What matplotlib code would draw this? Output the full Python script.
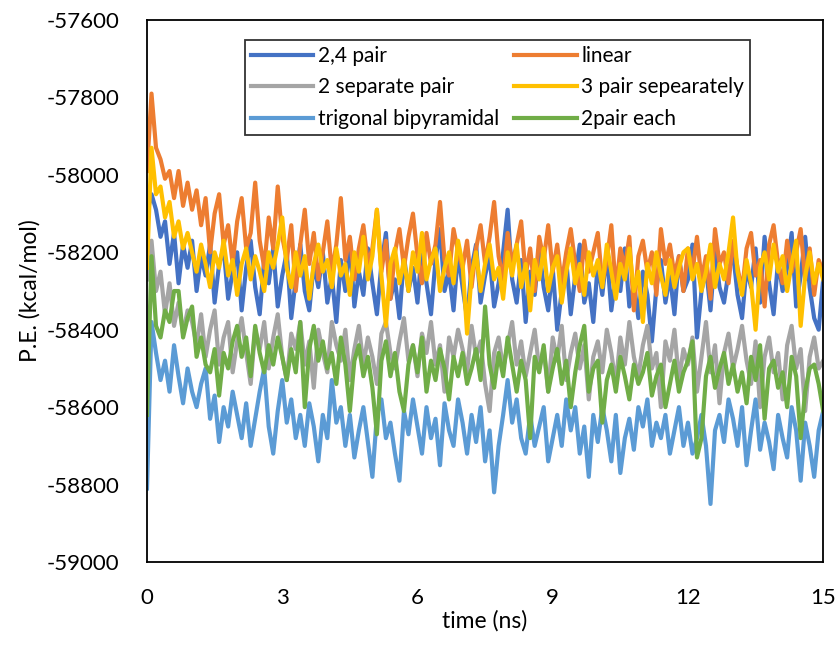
import numpy as np
import matplotlib
matplotlib.use("Agg")
import matplotlib.pyplot as plt

plt.rcParams['font.family'] = ['Lato', 'DejaVu Sans']
plt.rcParams['axes.unicode_minus'] = False

# time axis (ns), one frame every 0.1 ns
time_ns = np.arange(151) / 10.0

pair_24 = [
    -58100, -58050, -58090, -58160, -58120, -58230, -58150, -58280, -58180, -58240,
    -58170, -58300, -58210, -58260, -58180, -58330, -58230, -58190, -58320, -58250,
    -58200, -58350, -58240, -58170, -58290, -58360, -58220, -58280, -58190, -58340,
    -58260, -58200, -58370, -58270, -58180, -58300, -58350, -58230, -58290, -58200,
    -58330, -58260, -58380, -58220, -58300, -58170, -58340, -58250, -58310, -58190,
    -58280, -58360, -58230, -58150, -58320, -58270, -58370, -58210, -58300, -58240,
    -58330, -58190, -58280, -58360, -58220, -58140, -58300, -58250, -58350, -58200,
    -58290, -58370, -58240, -58180, -58330, -58260, -58210, -58340, -58280, -58200,
    -58090, -58270, -58330, -58220, -58380, -58250, -58310, -58190, -58290, -58350,
    -58240, -58400, -58300, -58220, -58360, -58260, -58180, -58330, -58280, -58380,
    -58230, -58310, -58200, -58350, -58260, -58300, -58190, -58340, -58280, -58370,
    -58250, -58310, -58430, -58290, -58220, -58330, -58260, -58360, -58210, -58300,
    -58270, -58180, -58420, -58300, -58240, -58350, -58200, -58290, -58330, -58250,
    -58200, -58310, -58370, -58240, -58290, -58190, -58330, -58160, -58280, -58360,
    -58220, -58300, -58240, -58150, -58340, -58260, -58160, -58290, -58370, -58400,
    -58270]

linear = [
    -57990, -57790, -57930, -57960, -58010, -57990, -58060, -57990, -58080, -58020,
    -58090, -58040, -58130, -58060, -58200, -58100, -58050, -58180, -58130, -58230,
    -58120, -58060, -58190, -58150, -58020, -58170, -58240, -58110, -58190, -58030,
    -58160, -58220, -58130, -58300, -58180, -58090, -58230, -58150, -58270, -58200,
    -58120, -58250, -58180, -58060, -58220, -58160, -58270, -58190, -58130, -58230,
    -58190, -58090, -58250, -58170, -58320, -58200, -58140, -58240, -58160, -58100,
    -58210, -58280, -58150, -58230, -58180, -58070, -58220, -58260, -58140, -58200,
    -58240, -58170, -58290, -58190, -58130, -58230, -58160, -58070, -58210, -58270,
    -58150, -58230, -58180, -58120, -58260, -58190, -58300, -58160, -58220, -58130,
    -58250, -58180, -58280, -58200, -58140, -58230, -58300, -58170, -58250, -58200,
    -58150, -58280, -58220, -58130, -58300, -58190, -58240, -58160, -58350, -58210,
    -58170, -58250, -58200, -58310, -58140, -58230, -58180, -58260, -58210, -58300,
    -58190, -58250, -58160, -58270, -58210, -58320, -58140, -58230, -58200, -58280,
    -58170, -58240, -58300, -58190, -58150, -58260, -58220, -58340, -58180, -58130,
    -58230, -58280, -58170, -58250, -58200, -58140, -58270, -58190, -58310, -58220,
    -58250]

separate_2 = [
    -58270, -58170, -58300, -58250, -58360, -58280, -58390, -58330, -58410, -58350,
    -58380, -58440, -58360, -58470, -58400, -58350, -58490, -58420, -58380, -58510,
    -58430, -58370, -58460, -58540, -58400, -58450, -58380, -58500, -58420, -58360,
    -58470, -58530, -58410, -58450, -58380, -58490, -58430, -58550, -58400, -58460,
    -58510, -58380, -58440, -58480, -58400, -58530, -58450, -58390, -58490, -58420,
    -58470, -58540, -58410, -58380, -58460, -58500, -58430, -58370, -58480, -58440,
    -58520, -58410, -58460, -58380, -58490, -58440, -58560, -58420, -58470, -58400,
    -58450, -58510, -58390, -58470, -58430, -58540, -58610, -58460, -58420, -58500,
    -58440, -58380, -58490, -58430, -58520, -58460, -58400, -58500, -58450, -58560,
    -58420, -58480, -58390, -58530, -58460, -58410, -58500, -58440, -58580, -58470,
    -58430, -58510, -58400, -58460, -58540, -58420, -58490, -58380, -58470, -58520,
    -58440, -58390, -58500, -58460, -58600, -58430, -58480, -58400, -58530, -58450,
    -58490, -58420, -58560, -58470, -58380, -58510, -58440, -58590, -58460, -58410,
    -58500, -58450, -58390, -58480, -58540, -58430, -58600, -58470, -58420, -58510,
    -58460, -58580, -58440, -58390, -58500, -58450, -58610, -58470, -58420, -58500,
    -58480]

pair_3_sep = [
    -58240, -57930, -58050, -58030, -58110, -58070, -58160, -58120, -58190, -58150,
    -58200, -58250, -58180, -58230, -58290, -58200, -58240, -58170, -58260, -58220,
    -58310, -58230, -58190, -58270, -58210, -58250, -58300, -58200, -58240, -58180,
    -58110, -58240, -58290, -58200, -58260, -58210, -58320, -58230, -58180, -58250,
    -58220, -58290, -58190, -58260, -58230, -58310, -58200, -58250, -58160, -58270,
    -58210, -58090, -58260, -58390, -58230, -58190, -58280, -58220, -58300, -58200,
    -58250, -58150, -58270, -58220, -58190, -58300, -58240, -58200, -58280, -58170,
    -58230, -58410, -58260, -58200, -58300, -58230, -58180, -58270, -58240, -58320,
    -58200, -58260, -58180, -58290, -58230, -58350, -58220, -58270, -58190, -58300,
    -58240, -58210, -58330, -58250, -58190, -58280, -58230, -58310, -58200, -58260,
    -58220, -58290, -58180, -58250, -58320, -58230, -58270, -58190, -58300, -58250,
    -58380, -58230, -58280, -58200, -58260, -58310, -58220, -58290, -58240, -58200,
    -58190, -58270, -58230, -58300, -58250, -58180, -58290, -58230, -58270, -58200,
    -58110, -58250, -58310, -58220, -58280, -58400, -58240, -58200, -58270, -58180,
    -58250, -58210, -58300, -58230, -58170, -58390, -58260, -58200, -58280, -58230,
    -58270]

trigonal = [
    -58810, -58380, -58460, -58530, -58480, -58560, -58440, -58520, -58590, -58500,
    -58560, -58600, -58540, -58500, -58630, -58570, -58690, -58600, -58650, -58560,
    -58620, -58680, -58590, -58700, -58630, -58560, -58500, -58650, -58720, -58610,
    -58530, -58640, -58580, -58680, -58620, -58700, -58590, -58650, -58740, -58620,
    -58680, -58530, -58640, -58600, -58700, -58620, -58730, -58660, -58600, -58690,
    -58780, -58620, -58580, -58680, -58640, -58720, -58790, -58610, -58670, -58580,
    -58650, -58720, -58600, -58680, -58630, -58750, -58590, -58660, -58700, -58580,
    -58640, -58720, -58620, -58690, -58600, -58740, -58660, -58820, -58700, -58620,
    -58530, -58640, -58580, -58680, -58720, -58620, -58700, -58650, -58600, -58740,
    -58680, -58620, -58700, -58580, -58660, -58600, -58720, -58650, -58780, -58620,
    -58690, -58600, -58660, -58740, -58620, -58770, -58680, -58630, -58710, -58600,
    -58650, -58580, -58700, -58640, -58680, -58620, -58720, -58660, -58600, -58700,
    -58640, -58720, -58680, -58620, -58700, -58850, -58660, -58620, -58690, -58580,
    -58630, -58700, -58600, -58750, -58660, -58580, -58710, -58640, -58690, -58760,
    -58620, -58680, -58730, -58600, -58660, -58790, -58640, -58700, -58780, -58660,
    -58610]

pair_2_each = [
    -58620, -58210, -58390, -58420, -58350, -58380, -58300, -58300, -58420, -58370,
    -58340, -58470, -58420, -58490, -58510, -58450, -58570, -58460, -58500, -58430,
    -58390, -58470, -58420, -58520, -58390, -58460, -58510, -58440, -58490, -58420,
    -58470, -58530, -58450, -58510, -58380, -58600, -58450, -58390, -58480, -58430,
    -58500, -58460, -58540, -58420, -58490, -58610, -58480, -58440, -58520, -58470,
    -58550, -58670, -58480, -58430, -58520, -58460, -58560, -58610, -58490, -58440,
    -58510, -58420, -58560, -58480, -58530, -58450, -58500, -58580, -58470, -58520,
    -58460, -58540, -58500, -58450, -58530, -58340, -58490, -58550, -58460, -58520,
    -58420, -58490, -58560, -58480, -58530, -58680, -58470, -58510, -58440, -58560,
    -58500, -58450, -58540, -58480, -58600, -58510, -58440, -58390, -58560, -58500,
    -58480, -58640, -58530, -58490, -58560, -58470, -58520, -58580, -58490, -58540,
    -58510, -58460, -58570, -58520, -58490, -58600, -58540, -58480, -58560, -58510,
    -58480, -58430, -58730, -58680, -58520, -58470, -58550, -58500, -58460, -58540,
    -58490, -58560, -58510, -58590, -58470, -58530, -58440, -58630, -58500, -58480,
    -58550, -58510, -58600, -58470, -58520, -58680, -58560, -58500, -58490, -58540,
    -58610]

series = [
    ("2,4 pair", pair_24, "#4472C4"),
    ("linear", linear, "#ED7D31"),
    ("2 separate pair", separate_2, "#A5A5A5"),
    ("3 pair sepearately", pair_3_sep, "#FFC000"),
    ("trigonal bipyramidal", trigonal, "#5B9BD5"),
    ("2pair each", pair_2_each, "#70AD47"),
]

fig = plt.figure(figsize=(8.4, 6.46), dpi=100)
ax = fig.add_axes([0.175, 0.13, 0.805, 0.839])

lines = []
for name, vals, col in series:
    ln, = ax.plot(time_ns, vals, color=col, lw=3.0, label=name,
                  solid_joinstyle="round")
    lines.append(ln)

ax.set_xlim(0, 15)
ax.set_ylim(-59000, -57600)
ax.set_xticks([0, 3, 6, 9, 12, 15])
ax.set_yticks(np.arange(-59000, -57599, 200))
ax.tick_params(length=0, labelsize=16, colors="black")
ax.tick_params(axis="x", pad=19)
ax.tick_params(axis="y", pad=20)
for sp in ax.spines.values():
    sp.set_linewidth(1.3)
    sp.set_color("black")

ax.set_xlabel("time (ns)", fontsize=16.5, labelpad=1)
ax.set_ylabel("P.E. (kcal/mol)", fontsize=16.5, labelpad=4)

# legend rows: 2,4 pair / linear, 2 separate pair / 3 pair, trigonal / 2pair each
order = [0, 2, 4, 1, 3, 5]
leg = ax.legend([lines[i] for i in order], [series[i][0] for i in order],
                ncol=2, loc="upper left",
                bbox_to_anchor=(0.145, 0.963),
                fontsize=15, frameon=True, fancybox=False,
                handlelength=3.0, handletextpad=0.2, labelspacing=0.55,
                borderpad=0.28, columnspacing=0.75, borderaxespad=0)
leg.get_frame().set_edgecolor("black")
leg.get_frame().set_linewidth(1.3)
for h in leg.get_lines():
    h.set_linewidth(3)

fig.savefig("out.png", dpi=100)
